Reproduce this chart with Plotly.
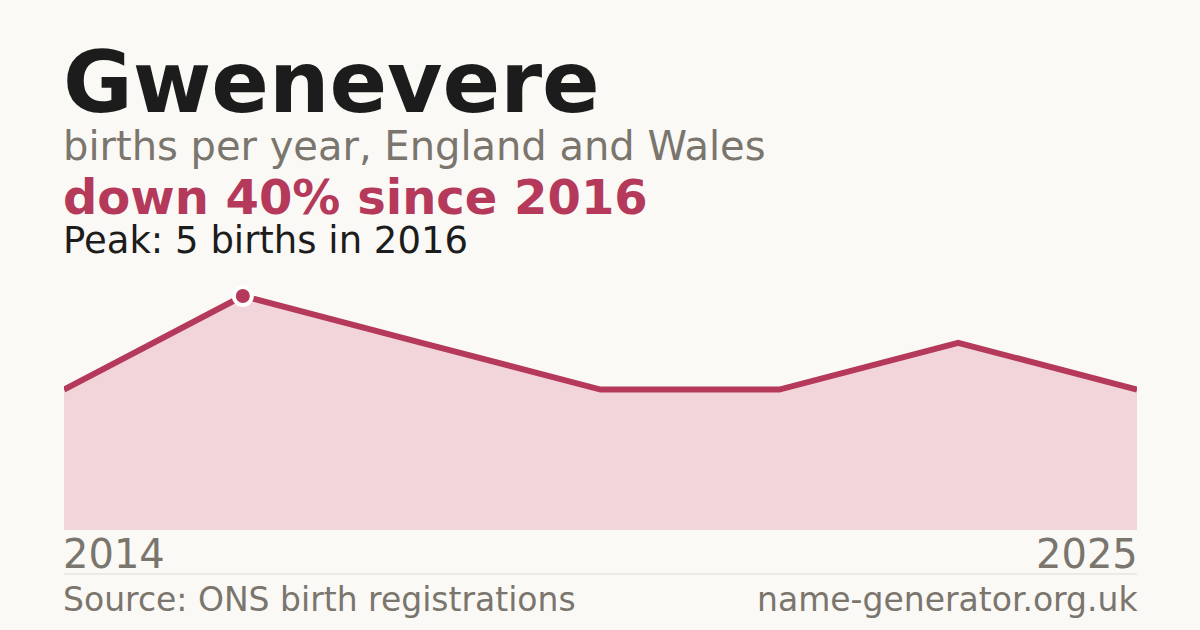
import plotly.graph_objects as go

# births per year (ONS), only years with a published count
years = [2014, 2016, 2018, 2020, 2022, 2024, 2025]
births = [3, 5, 4, 3, 3, 4, 3]

name = 'Gwenevere'
subtitle = 'births per year, England and Wales'
change_text = 'down 40% since 2016'
peak_text = 'Peak: 5 births in 2016'
source_text = 'Source: ONS birth registrations'
site_text = 'name-generator.org.uk'

BG = '#faf9f5'
RED = '#b5395a'
FILL = '#f2d5da'
GREY = '#7a756d'
INK = '#1c1c1c'

W, H = 1200, 630
M_L, M_R, M_T, M_B = 64, 63, 282, 100
PLOT_H = H - M_T - M_B
BOTTOM = H - M_B


def py(y_px):
    # pixel row -> paper coordinate
    return (BOTTOM - y_px) / PLOT_H


idx = list(range(len(years)))
peak_i = births.index(max(births))

fig = go.Figure()

fig.add_trace(go.Scatter(
    x=idx, y=births, mode='lines', fill='tozeroy',
    fillcolor=FILL, line=dict(color=RED, width=6),
    hoverinfo='skip', showlegend=False))

fig.add_trace(go.Scatter(
    x=[idx[peak_i]], y=[births[peak_i]], mode='markers',
    marker=dict(size=18, color=RED, line=dict(color='white', width=4)),
    cliponaxis=False, hoverinfo='skip', showlegend=False))

font = 'DejaVu Sans'
ann = []


def add_text(text, x, y_mid, size, color, anchor='left', bold=False):
    t = '<b>' + text + '</b>' if bold else text
    # annotations carry a few px of padding; pull the text to the plot edge
    shift = -3 if anchor == 'left' else 3
    ann.append(dict(text=t, x=x, y=py(y_mid), xref='paper', yref='paper',
                    xanchor=anchor, yanchor='middle', showarrow=False,
                    xshift=shift,
                    font=dict(family=font, size=size, color=color)))


add_text(name, 0, 83, 85, INK, bold=True)
add_text(subtitle, 0, 146, 40, GREY)
add_text(change_text, 0, 197, 48, RED, bold=True)
add_text(peak_text, 0, 240, 37, INK)
add_text(str(years[0]), 0, 554, 40, GREY)
add_text(str(years[-1]), 1, 554, 40, GREY, anchor='right')
add_text(source_text, 0, 599, 33, GREY)
add_text(site_text, 1, 599, 33, GREY, anchor='right')

fig.update_layout(
    width=W, height=H,
    margin=dict(l=M_L, r=M_R, t=M_T, b=M_B),
    paper_bgcolor=BG, plot_bgcolor=BG,
    xaxis=dict(range=[0, len(years) - 1], visible=False, fixedrange=True),
    yaxis=dict(range=[0, 5.3], visible=False, fixedrange=True),
    annotations=ann,
    shapes=[dict(type='line', xref='paper', yref='paper', x0=0, x1=1,
                 y0=py(574), y1=py(574), line=dict(color='#dedbd5', width=1))],
)

fig.write_html('out.html', config={'displayModeBar': False},
               post_script="document.body.style.margin='0';")
